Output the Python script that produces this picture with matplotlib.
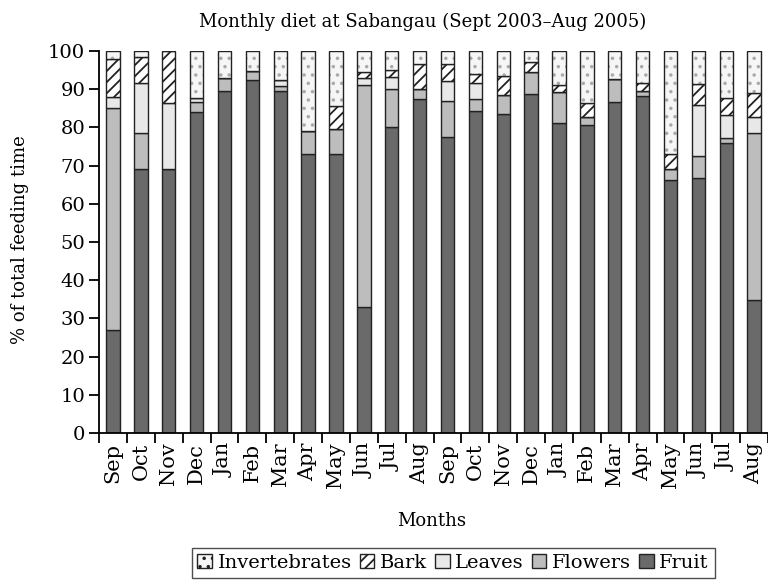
import numpy as np
import matplotlib
matplotlib.use("Agg")
from matplotlib import pyplot as plt
from matplotlib.patches import Patch

months = ["Sep", "Oct", "Nov", "Dec", "Jan", "Feb", "Mar", "Apr", "May", "Jun", "Jul", "Aug",
          "Sep", "Oct", "Nov", "Dec", "Jan", "Feb", "Mar", "Apr", "May", "Jun", "Jul", "Aug"]

fruit = [27, 69, 69, 84, 89.5, 92.4, 89.5, 73, 73, 33, 80, 87.5,
         77.5, 84.2, 83.5, 88.8, 81.2, 80.7, 86.6, 88.3, 66.2, 66.7, 76, 34.8]
flowers = [58, 9.5, 0, 2.7, 3.5, 2.3, 1.3, 6, 6.7, 58, 10, 2.5,
           9.3, 3.3, 5, 5.6, 8, 1.9, 6, 1.1, 2.9, 5.8, 1.3, 43.8]
leaves = [3, 13, 17.5, 1, 0, 0, 1.6, 0, 0, 2, 3.3, 0,
          5.3, 4.2, 0, 0, 0, 0, 0, 0, 0, 13.3, 6, 4]
bark = [10, 7, 13.5, 0, 0, 0, 0, 0, 5.8, 1.6, 1.7, 6.7,
        4.4, 2.4, 4.9, 2.6, 1.9, 3.8, 0, 2.1, 4, 5.5, 4.3, 6.4]
invert = [2, 1.5, 0, 12.3, 7, 5.3, 7.6, 21, 14.5, 5.4, 5, 3.3,
          3.5, 5.9, 6.6, 3, 8.9, 13.6, 7.4, 8.5, 26.9, 8.7, 12.4, 11]

plt.rcParams['font.family'] = ['DejaVu Serif']
plt.rcParams['hatch.linewidth'] = 1.3

fig = plt.figure(figsize=(7.68, 5.84), dpi=100)
ax = fig.add_axes([0.129, 0.2586, 0.871, 0.6541])

x = np.arange(len(months))
w = 0.48
c_fruit, c_flowers, c_leaves = '#6a6a6a', '#bdbdbd', '#e8e8e8'

# stacked bars, bottom to top
b0 = np.zeros(len(x))
ax.bar(x, fruit, w, bottom=b0, color=c_fruit, edgecolor='#222', lw=1)
b0 = b0 + np.array(fruit)
ax.bar(x, flowers, w, bottom=b0, color=c_flowers, edgecolor='#222', lw=1)
b0 = b0 + np.array(flowers)
ax.bar(x, leaves, w, bottom=b0, color=c_leaves, edgecolor='#222', lw=1)
b0 = b0 + np.array(leaves)
ax.bar(x, bark, w, bottom=b0, color='white', edgecolor='#222', lw=1, hatch='///')
b0 = b0 + np.array(bark)
ax.bar(x, invert, w, bottom=b0, color='#f6f6f6', edgecolor='#aaa', lw=0, hatch='..')
ax.bar(x, invert, w, bottom=b0, fill=False, edgecolor='#222', lw=1)

ax.set_xlim(-0.5, 23.5)
ax.set_ylim(0, 100)
ax.spines['top'].set_visible(False)
ax.spines['right'].set_visible(False)
ax.spines['left'].set_linewidth(1.3)
ax.spines['bottom'].set_linewidth(1.3)

ax.set_yticks(np.arange(0, 101, 10))
ax.tick_params(axis='y', labelsize=14, length=7, width=1.3, pad=3)
ax.set_xticks(x)
ax.set_xticklabels(months, rotation=90, fontsize=15)
ax.tick_params(axis='x', which='major', length=0, pad=7)
ax.set_xticks(np.arange(-0.5, 24, 1), minor=True)
ax.tick_params(axis='x', which='minor', length=7, width=1.3)

fig.text(0.55, 0.962, "Monthly diet at Sabangau (Sept 2003\u2013Aug 2005)",
         ha='center', va='center', fontsize=13)
fig.text(0.026, 0.589, "% of total feeding time", rotation=90,
         ha='center', va='center', fontsize=13)
fig.text(0.5625, 0.108, "Months", ha='center', va='center', fontsize=13)

handles = [
    Patch(facecolor='#f6f6f6', edgecolor='#222', hatch='..', label='Invertebrates'),
    Patch(facecolor='white', edgecolor='#222', hatch='///', label='Bark'),
    Patch(facecolor=c_leaves, edgecolor='#222', label='Leaves'),
    Patch(facecolor=c_flowers, edgecolor='#222', label='Flowers'),
    Patch(facecolor=c_fruit, edgecolor='#222', label='Fruit'),
]
leg = fig.legend(handles=handles, loc='center', bbox_to_anchor=(0.59, 0.036), ncol=5,
                 fontsize=14, handlelength=0.75, handleheight=0.75, handletextpad=0.3,
                 columnspacing=0.4, fancybox=False, edgecolor='#222', borderpad=0.3,
                 borderaxespad=0)
leg.get_frame().set_linewidth(1.0)

fig.savefig("out.png", dpi=100)
